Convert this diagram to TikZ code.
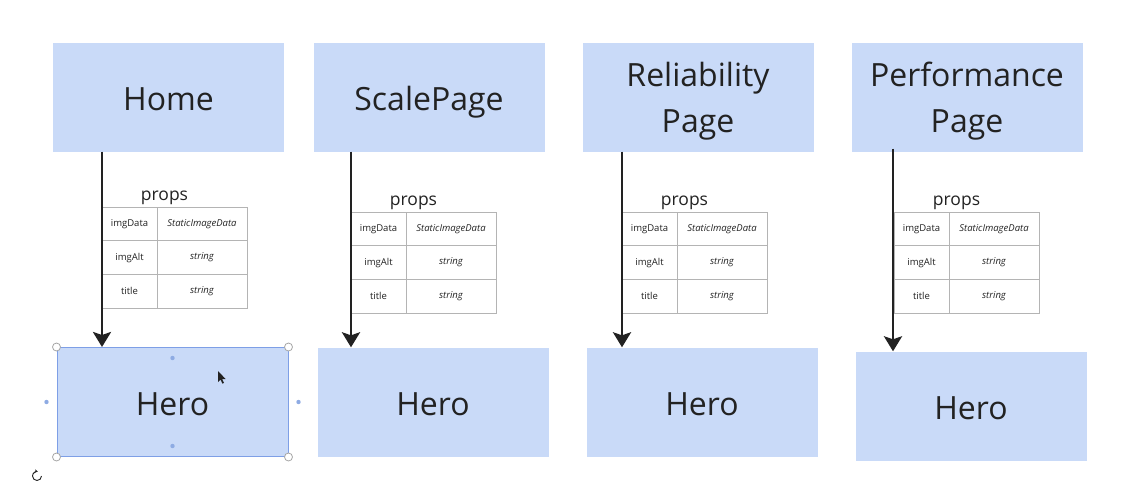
\documentclass[tikz,border=0pt]{standalone}
\usepackage{fontspec}
\setmainfont{Open Sans}
\usetikzlibrary{arrows.meta}
\definecolor{boxfill}{HTML}{C9DAF8}
\definecolor{selblue}{HTML}{7E9FE6}
\definecolor{dotblue}{HTML}{8EABE3}
\definecolor{gridgray}{HTML}{B4B4B4}
\definecolor{inkgray}{HTML}{222222}
\tikzset{
  page/.style={fill=boxfill, minimum width=231pt, minimum height=109pt, inner sep=0pt,
    text=inkgray, align=center, font=\fontsize{32}{46.6}\selectfont,
    text height=26pt, text depth=0pt},
  twoline/.style={text height=71.6pt},
  flow/.style={draw=inkgray, line width=2.9pt,
    -{Stealth[length=15pt,width=18pt,inset=3pt]}},
  cellkey/.style={draw=gridgray, line width=0.7pt, minimum width=55pt, minimum height=33.7pt,
    inner sep=0pt, font=\fontsize{9.5}{11}\selectfont, text=inkgray},
  cellval/.style={cellkey, minimum width=90pt, font=\fontsize{9.5}{11}\selectfont\itshape},
  propslabel/.style={font=\fontsize{17.5}{20}\selectfont, text=inkgray, inner sep=0pt},
  handle/.style={draw=gray!70, fill=white, line width=0.8pt},
  middot/.style={fill=dotblue, draw=none},
  proptable/.pic={
    \node[propslabel] (-lbl) at (62.5,-9) {props};
    \node[cellkey] (-k1) at (27.5,16.85) {imgData};
    \node[cellval] (-v1) at (100,16.85) {StaticImageData};
    \node[cellkey] (-k2) at (27.5,50.55) {imgAlt};
    \node[cellval] (-v2) at (100,50.55) {string};
    \node[cellkey] (-k3) at (27.5,84.25) {title};
    \node[cellval] (-v3) at (100,84.25) {string};
  }
}
\begin{document}
\begin{tikzpicture}[x=1pt,y=-1pt]
\useasboundingbox (0,0) rectangle (1131,499);

% page components
\node[page] (home) at (168.5,97) {Home};
\node[page] (scale) at (429,97) {ScalePage};
\node[page, twoline] (reli) at (698,97) {Reliability\\Page};
\node[page, twoline] (perf) at (967,97) {Performance\\Page};

% hero components
\node[page, draw=selblue, line width=1pt] (hero1) at (172.5,402) {Hero};
\node[page] (hero2) at (433,402) {Hero};
\node[page] (hero3) at (702,402) {Hero};
\node[page] (hero4) at (971,406) {Hero};

% props tables
\pic (t1) at (102,207) {proptable};
\pic (t2) at (351,212) {proptable};
\pic (t3) at (622,212) {proptable};
\pic (t4) at (894,212) {proptable};

% data flow arrows
\coordinate (x1) at (102,0);
\coordinate (x2) at (351,0);
\coordinate (x3) at (622,0);
\coordinate (x4) at (893,0);
\draw[flow] (x1 |- home.south) -- (x1 |- hero1.north);
\draw[flow] (x2 |- scale.south) -- (x2 |- hero2.north);
\draw[flow] (x3 |- reli.south) -- (x3 |- hero3.north);
\draw[flow] ([yshift=3pt]x4 |- perf.south) -- (x4 |- hero4.north);

% selection handles on the first hero
\foreach \c in {north west, north east, south west, south east}
  \draw[handle] (hero1.\c) circle (4pt);
\fill[middot] ([yshift=-11pt]hero1.north) circle (2.2pt);
\fill[middot] ([yshift=11pt]hero1.south) circle (2.2pt);
\fill[middot] ([xshift=-10pt]hero1.west) circle (2.2pt);
\fill[middot] ([xshift=10pt]hero1.east) circle (2.2pt);

% rotate handle
\draw[inkgray, line width=0.9pt, -{Stealth[length=3pt,width=3.5pt]}]
  (41.5,476) arc[start angle=0, end angle=-280, radius=4.5pt];

% mouse pointer
\fill[inkgray] (218,371) -- (218,382) -- (220.5,379.6) -- (222.4,383.6) -- (224,382.9)
  -- (222.1,379) -- (225.6,379) -- cycle;
\end{tikzpicture}
\end{document}
